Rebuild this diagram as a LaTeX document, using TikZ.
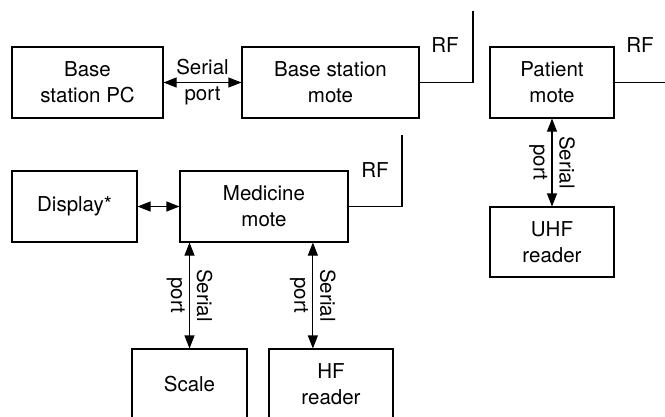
\documentclass[tikz,border=0pt]{standalone}
\usepackage{fontspec}
\setmainfont{TeX Gyre Heros}
\usetikzlibrary{arrows.meta,positioning,calc}

\tikzset{
  unit/.style={draw, line width=1.1pt, align=center, inner sep=0pt,
               font=\fontsize{20.5}{26}\selectfont},
  biarrow/.style={line width=1.1pt, {Triangle[length=13pt,width=10pt]}-{Triangle[length=13pt,width=10pt]}},
  antenna/.style={line width=1.1pt},
  portlabel/.style={align=center, font=\fontsize{20.5}{26}\selectfont}
}

\begin{document}
\begin{tikzpicture}[x=1pt, y=-1pt]
  \clip (0,0) rectangle (665,416);

  % top row
  \node[unit, minimum width=151pt, minimum height=71pt] (pc) at (87.5, 82.5) {Base\\station PC};
  \node[unit, minimum width=177pt, minimum height=71pt] (bsmote) at (330.5, 82.5) {Base station\\mote};
  \node[unit, minimum width=124pt, minimum height=71pt] (patient) at (552, 82.5) {Patient\\mote};

  % medicine row
  \node[unit, minimum width=125pt, minimum height=71pt] (display) at (74.5, 206.5) {Display*};
  \node[unit, minimum width=168pt, minimum height=71pt] (medicine) at (264, 206.5) {Medicine\\mote};
  \node[unit, minimum width=124pt, minimum height=70pt] (uhf) at (552, 242) {UHF\\reader};

  % readers at the bottom
  \node[unit, minimum width=115pt, minimum height=70pt] (scale) at (189.5, 384) {Scale};
  \node[unit, minimum width=124pt, minimum height=70pt] (hf) at (331, 384) {HF\\reader};

  \coordinate (hfport) at ($(hf.north west)!0.355!(hf.north east)$);
  \coordinate (bsant) at (473, 11);
  \coordinate (medant) at (402, 135);
  \coordinate (patant) at (680, 11);

  % links
  \draw[biarrow] (pc.east) -- (bsmote.west);
  \node[portlabel] (pcport) at ($(pc.east)!0.5!(bsmote.west)$) {Serial\\port};
  \draw[biarrow] (display.east) -- (medicine.west);
  \draw[biarrow] (scale.north |- medicine.south) -- (scale.north);
  \node[portlabel, rotate=-90] (scaleport) at ($(scale.north |- medicine.south)!0.5!(scale.north)$) {Serial\\port};
  \draw[biarrow] (hfport |- medicine.south) -- (hfport);
  \node[portlabel, rotate=-90] (hflabel) at ($(hfport |- medicine.south)!0.5!(hfport)$) {Serial\\port};
  \draw[biarrow] (patient.south) -- (uhf.north);
  \node[portlabel, rotate=-90] (uhflabel) at ($(patient.south)!0.5!(uhf.north)$) {Serial\\port};

  % radio antennas
  \draw[antenna] (bsmote.east) -| (bsant);
  \node[portlabel] (bsrf) at (445, 45) {RF};
  \draw[antenna] (medicine.east) -| (medant);
  \node[portlabel] (medrf) at (375, 170) {RF};
  \draw[antenna] (patient.east) -| (patant);
  \node[portlabel] (patrf) at (640, 45) {RF};
\end{tikzpicture}
\end{document}
